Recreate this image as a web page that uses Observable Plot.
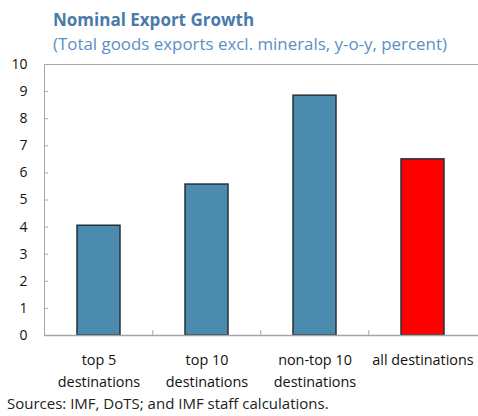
<!DOCTYPE html>
<html>
<head>
<meta charset="utf-8">
<script src="https://cdn.jsdelivr.net/npm/d3@7"></script>
<script src="https://cdn.jsdelivr.net/npm/@observablehq/plot@0.6"></script>
<style>
  body { margin: 0; background: #fff; font-family: "Open Sans", sans-serif; }
  #wrap { position: relative; width: 478px; height: 416px; overflow: hidden; }
  #title { position: absolute; left: 53px; top: 8px; font-size: 17px; font-weight: bold; color: #4a7aab; white-space: nowrap; }
  #subtitle { position: absolute; left: 53px; top: 32px; font-size: 16.9px; color: #5a8fc4; white-space: nowrap; }
  #caption { position: absolute; left: 7px; top: 394px; font-size: 15px; line-height: 18px; color: #222; white-space: nowrap; }
  #chart { position: absolute; left: 0; top: 0; }
</style>
</head>
<body>
<div id="wrap">
  <div id="chart"></div>
  <div id="title">Nominal Export Growth</div>
  <div id="subtitle">(Total goods exports excl. minerals, y-o-y, percent)</div>
  <div id="caption">Sources: IMF, DoTS; and IMF staff calculations.</div>
</div>
<script>
const categories = ["top 5 destinations", "top 10 destinations", "non-top 10 destinations", "all destinations"];
const tickLabels = ["top 5\ndestinations", "top 10\ndestinations", "non-top 10\ndestinations", "all destinations"];
const values = [4.05, 5.57, 8.85, 6.5];
const colors = ["#4b8bae", "#4b8bae", "#4b8bae", "#ff0000"];
const yTicks = [0, 1, 2, 3, 4, 5, 6, 7, 8, 9, 10];

const data = categories.map((c, i) => ({category: c, value: values[i], color: colors[i]}));
const labelOf = new Map(categories.map((c, i) => [c, tickLabels[i]]));

const W = 478, H = 416, ML = 44, MR = 0, MT = 64, MB = 81;
const step = (W - ML - MR) / categories.length;

const chart = Plot.plot({
  width: W,
  height: H,
  marginLeft: ML,
  marginRight: MR,
  marginTop: MT,
  marginBottom: MB,
  style: {fontFamily: "'Open Sans', sans-serif", fontSize: "14px", color: "#111", background: "transparent"},
  x: {domain: categories, paddingInner: 0.6, paddingOuter: 0.3, align: 0.5, label: null},
  y: {domain: [0, 10], label: null},
  marks: [
    Plot.barY(data, {x: "category", y: "value", fill: "color", stroke: "#24323c", strokeWidth: 1.5}),
    Plot.ruleX(categories.slice(1), {x: d => d, y1: 0, y2: 0.18, dx: -step / 2, stroke: "#a6a6a6", strokeWidth: 1}),
    Plot.axisY({ticks: yTicks, tickSize: -4, tickPadding: 21, stroke: "#a6a6a6", tickFormat: d => String(d), fontSize: 14, fill: "#111", label: null}),
    Plot.axisX({tickSize: 0, tickPadding: 14, tickFormat: d => labelOf.get(d), fontSize: 14.4, fill: "#111", lineHeight: 1.52, label: null}),
    Plot.ruleY([10], {stroke: "#a6a6a6", strokeWidth: 1}),
    Plot.ruleY([0], {stroke: "#a6a6a6", strokeWidth: 1.5}),
    Plot.frame({anchor: "left", stroke: "#a6a6a6"})
  ]
});
document.getElementById("chart").appendChild(chart);
</script>
</body>
</html>
